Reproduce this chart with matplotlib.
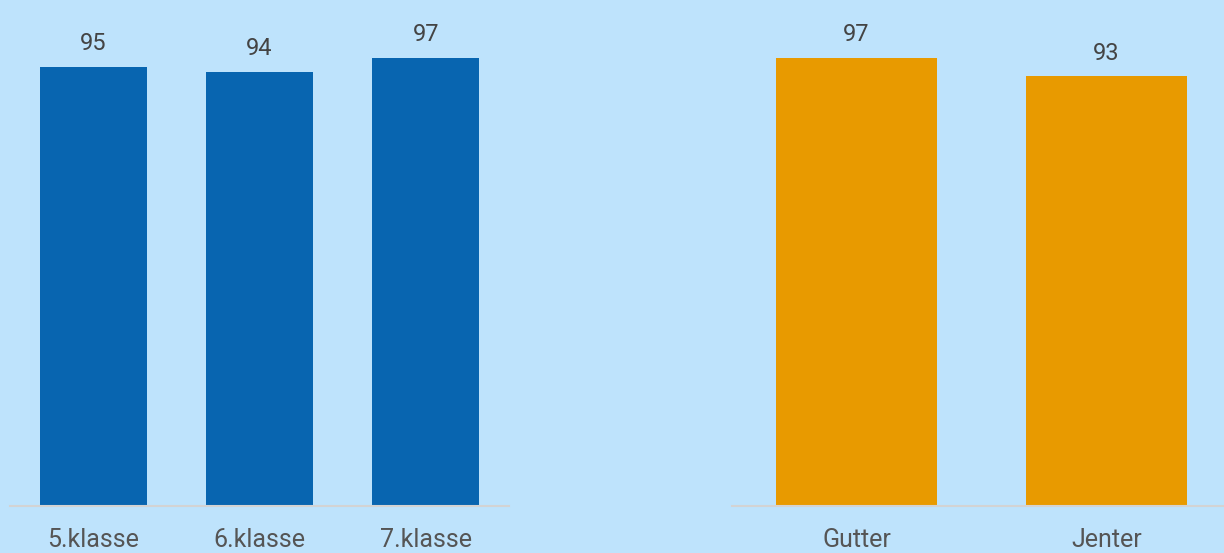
import matplotlib.pyplot as plt

# data
klasse = ['5.klasse', '6.klasse', '7.klasse']
klasse_verdi = [95, 94, 97]
kjonn = ['Gutter', 'Jenter']
kjonn_verdi = [97, 93]

bg = '#BEE3FC'
plt.rcParams['font.family'] = ['Roboto', 'DejaVu Sans']

fig = plt.figure(figsize=(12.24, 5.53), dpi=100, facecolor=bg)
W, H = 1224, 553

def panel(left, right, labels, values, color):
    ax = fig.add_axes([left / W, (H - 506) / H, (right - left) / W, 506 / H])
    ax.set_facecolor(bg)
    x = range(len(labels))
    bars = ax.bar(x, values, width=0.643, color=color)
    ax.set_xlim(-0.5, len(labels) - 0.5)
    ax.set_ylim(0, 109.5)
    for b, v in zip(bars, values):
        ax.text(b.get_x() + b.get_width() / 2, v + 5.0, str(v), ha='center',
                va='center', fontsize=17, color='#444444')
    ax.set_xticks(list(x))
    ax.set_xticklabels(labels, fontsize=18, color='#555555')
    ax.tick_params(axis='x', length=0, pad=16)
    ax.set_yticks([])
    for s in ['top', 'right', 'left']:
        ax.spines[s].set_visible(False)
    ax.spines['bottom'].set_color('#D3D3D3')
    ax.spines['bottom'].set_linewidth(1.5)
    return ax

panel(10, 509, klasse, klasse_verdi, '#0865B0')
panel(731.5, 1231.5, kjonn, kjonn_verdi, '#E89A00')

plt.savefig('out.png', dpi=100, facecolor=bg)
